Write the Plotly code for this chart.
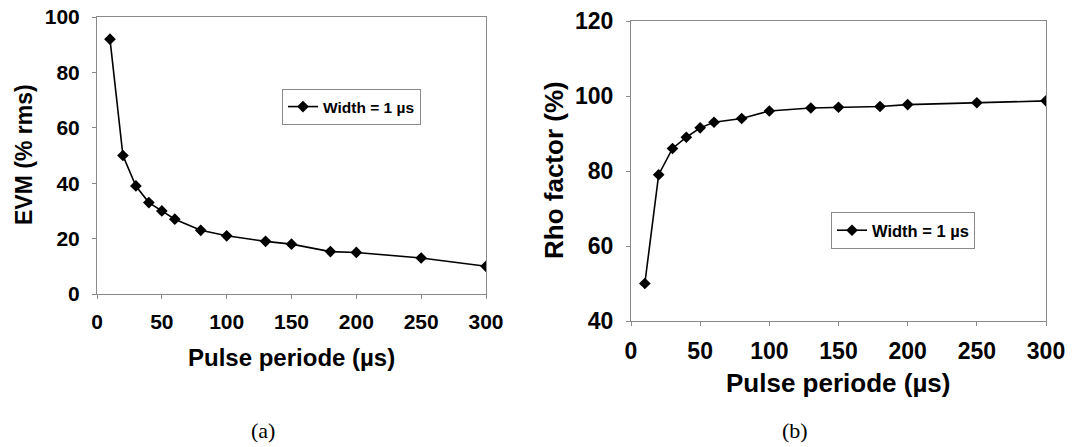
import plotly.graph_objects as go

W, H = 1073, 447

period_us = [10, 20, 30, 40, 50, 60, 80, 100, 130, 150, 180, 200, 250, 300]
evm_pct_rms = [92, 50, 39, 33, 30, 27, 23, 21, 19, 18, 15.3, 15, 13, 10]
rho_pct = [50, 79, 86, 89, 91.5, 93, 94, 96, 96.8, 97, 97.2, 97.7, 98.2, 98.7]
series_name = "Width = 1 µs"
x_title = "Pulse periode (µs)"
y_title_a = "EVM (% rms)"
y_title_b = "Rho factor (%)"
captions = ["(a)", "(b)"]


def px_x(p):
    return p / W


def px_y(p):
    return 1 - p / H


FONT = "Liberation Sans, Arial, sans-serif"
AXC = "#8a8a8a"

fig = go.Figure()
fig.add_trace(go.Scatter(
    x=period_us, y=evm_pct_rms, name=series_name, mode="lines+markers",
    line=dict(color="black", width=1.6),
    marker=dict(symbol="diamond", size=9, color="black"),
    xaxis="x", yaxis="y", legend="legend"))
fig.add_trace(go.Scatter(
    x=period_us, y=rho_pct, name=series_name, mode="lines+markers",
    line=dict(color="black", width=1.6),
    marker=dict(symbol="diamond", size=9, color="black"),
    xaxis="x2", yaxis="y2", legend="legend2"))

common = dict(showgrid=False, zeroline=False, showline=True, linecolor=AXC,
              linewidth=1, mirror=True, ticks="outside", ticklen=4,
              tickcolor=AXC, automargin=False)

fig.update_layout(
    template="none",
    width=W, height=H,
    margin=dict(l=0, r=0, t=0, b=0, autoexpand=False),
    paper_bgcolor="white", plot_bgcolor="white",
    xaxis=dict(domain=[px_x(97), px_x(486)], range=[0, 300], dtick=50,
               anchor="y", tickfont=dict(family=FONT, size=21, color="black", weight="bold"),
               ticklabelstandoff=5, **common),
    yaxis=dict(domain=[px_y(294), px_y(17)], range=[0, 100], dtick=20,
               anchor="x", tickfont=dict(family=FONT, size=21, color="black", weight="bold"),
               ticklabelstandoff=8, **common),
    xaxis2=dict(domain=[px_x(631), px_x(1046)], range=[0, 300], dtick=50,
                anchor="y2", tickfont=dict(family=FONT, size=23, color="black", weight="bold"),
                ticklabelstandoff=5, **common),
    yaxis2=dict(domain=[px_y(321), px_y(21)], range=[40, 120], dtick=20,
                anchor="x2", tickfont=dict(family=FONT, size=23, color="black", weight="bold"),
                ticklabelstandoff=8, **common),
    legend=dict(x=px_x(282), y=px_y(89), xanchor="left", yanchor="top",
                bgcolor="white", bordercolor=AXC, borderwidth=1,
                font=dict(family=FONT, size=15.5, color="black", weight="bold")),
    legend2=dict(x=px_x(831), y=px_y(212), xanchor="left", yanchor="top",
                 bgcolor="white", bordercolor=AXC, borderwidth=1,
                 font=dict(family=FONT, size=16.5, color="black", weight="bold")),
    showlegend=True,
)

annots = [
    dict(text=y_title_a, x=px_x(24), y=px_y(155), textangle=-90,
         font=dict(family=FONT, size=23, color="black", weight="bold")),
    dict(text=x_title, x=px_x(291), y=px_y(357),
         font=dict(family=FONT, size=24, color="black", weight="bold")),
    dict(text=y_title_b, x=px_x(554), y=px_y(170), textangle=-90,
         font=dict(family=FONT, size=26, color="black", weight="bold")),
    dict(text=x_title, x=px_x(838), y=px_y(383),
         font=dict(family=FONT, size=26, color="black", weight="bold")),
    dict(text=captions[0], x=px_x(263), y=px_y(430),
         font=dict(family="Liberation Serif, DejaVu Serif, serif", size=22, color="black")),
    dict(text=captions[1], x=px_x(795), y=px_y(430),
         font=dict(family="Liberation Serif, DejaVu Serif, serif", size=22, color="black")),
]
for a in annots:
    fig.add_annotation(xref="paper", yref="paper", showarrow=False,
                       xanchor="center", yanchor="middle", **a)

fig.write_html(
    "out.html",
    config={"displayModeBar": False},
    post_script="document.body.style.margin='0';document.body.style.padding='0';"
                "document.documentElement.style.overflow='hidden';",
)
